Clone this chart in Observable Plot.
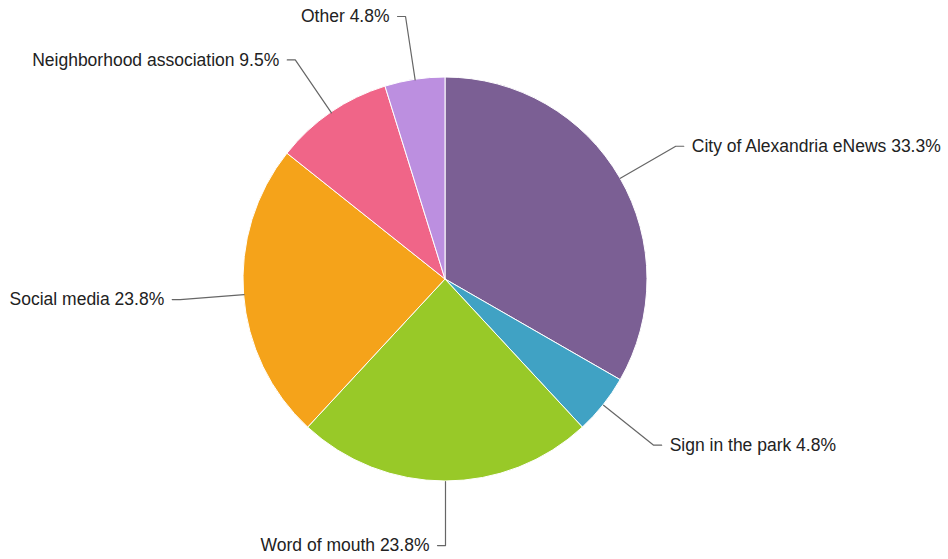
<!DOCTYPE html>
<html>
<head>
<meta charset="utf-8">
<script src="https://cdn.jsdelivr.net/npm/d3@7"></script>
<script src="https://cdn.jsdelivr.net/npm/@observablehq/plot@0.6"></script>
<style>
  html, body { margin: 0; padding: 0; background: #fff; }
</style>
</head>
<body>
<div id="chart"></div>
<script>
const categories = ["City of Alexandria eNews", "Sign in the park", "Word of mouth", "Social media", "Neighborhood association", "Other"];
const shares = [33.3, 4.8, 23.8, 23.8, 9.5, 4.8];
const colors = ["#7b5f94", "#40a2c4", "#98c928", "#f5a31a", "#f06588", "#bc8fe0"];

const W = 948, H = 559;
const CX = 445, CY = 279, R = 202;   // layout: pie centre and radius in px
const ELBOW = 1.317;                   // leader elbow radius (relative)
const TAIL = 8 / R;                    // horizontal tail length (data units)

const rows = categories.map((c, i) => ({category: c, share: shares[i]}));
const arcs = d3.pie().sort(null).value(d => d.share)(rows);
rows.forEach((d, i) => {
  const a = (arcs[i].startAngle + arcs[i].endAngle) / 2;
  d.mid = a;
  d.side = Math.sin(a) > 0.01 ? 1 : -1;
  d.ex = Math.sin(a) * ELBOW;
  d.ey = -Math.cos(a) * ELBOW;
  d.tx = d.ex + d.side * TAIL;
  d.label = `${d.category} ${d.share.toFixed(1)}%`;
});

const leaders = rows.flatMap(d => [
  {category: d.category, x: Math.sin(d.mid), y: -Math.cos(d.mid)},
  {category: d.category, x: d.ex, y: d.ey},
  {category: d.category, x: d.tx, y: d.ey}
]);

const plot = Plot.plot({
  width: W,
  height: H,
  margin: 0,
  x: {domain: [-CX / R, (W - CX) / R], range: [0, W], axis: null},
  y: {domain: [-CY / R, (H - CY) / R], range: [0, H], axis: null},
  color: {domain: categories, range: colors},
  style: {fontFamily: "'Liberation Sans', Arial, Helvetica, sans-serif", fontSize: "17.5px", background: "#fff"},
  marks: [
    Plot.dot(rows, {
      x: () => 0,
      y: () => 0,
      fill: "category",
      render(index, scales, values) {
        const cx = scales.x(0), cy = scales.y(0), r = scales.x(1) - scales.x(0);
        const arc = d3.arc().innerRadius(0).outerRadius(r);
        const g = d3.create("svg:g").attr("transform", `translate(${cx},${cy})`);
        g.selectAll("path").data(index).join("path")
          .attr("d", i => arc(arcs[i]))
          .attr("fill", i => values.fill[i])
          .attr("stroke", "#fff")
          .attr("stroke-width", 1)
          .attr("stroke-linejoin", "round");
        return g.node();
      }
    }),
    Plot.line(leaders, {x: "x", y: "y", z: "category", stroke: "#666", strokeWidth: 1.2}),
    Plot.text(rows.filter(d => d.side > 0), {x: "tx", y: "ey", text: "label", textAnchor: "start", dx: 8, fill: "#222", fontSize: 17.5}),
    Plot.text(rows.filter(d => d.side < 0), {x: "tx", y: "ey", text: "label", textAnchor: "end", dx: -8, fill: "#222", fontSize: 17.5})
  ]
});
document.getElementById("chart").appendChild(plot);
</script>
</body>
</html>
